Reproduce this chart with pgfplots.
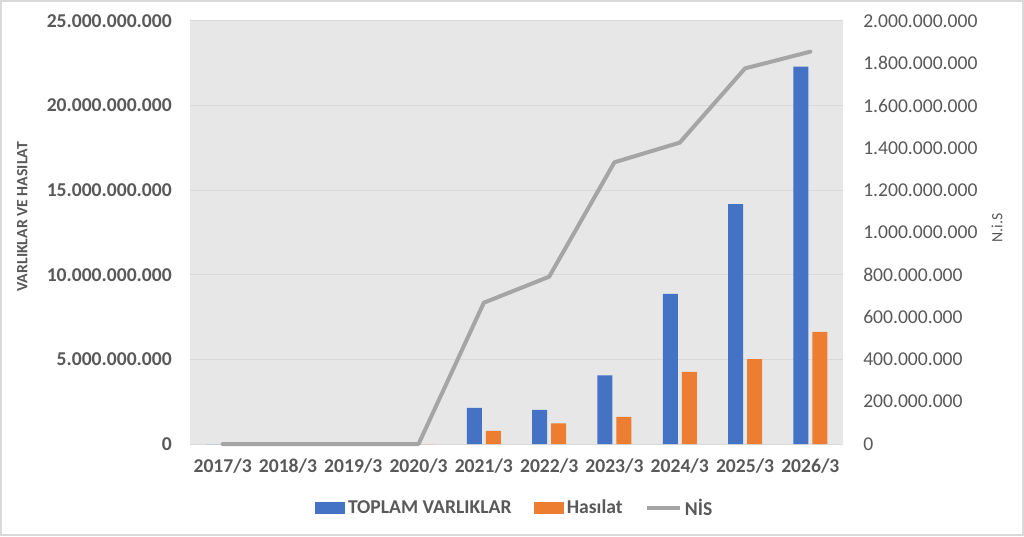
\documentclass[border=0pt]{standalone}
\usepackage{pgfplots}
\pgfplotsset{compat=1.18}
\usepackage{fontspec}
\setmainfont{Carlito}
\definecolor{cblue}{HTML}{4472C4}
\definecolor{corange}{HTML}{ED7D31}
\definecolor{cgrey}{HTML}{A5A5A5}
\definecolor{ctext}{HTML}{595959}
\definecolor{cbg}{HTML}{E7E7E7}
\definecolor{cgrid}{HTML}{D9D9D9}
\begin{document}
\begin{tikzpicture}[x=1pt,y=1pt]
\useasboundingbox (0,0) rectangle (768,402);
\fill[white] (0,0) rectangle (768,402);
\draw[cgrid, line width=1.5pt] (0.75,0.75) rectangle (767.25,401.25);
\begin{axis}[
  at={(142.5pt,69pt)}, anchor=south west,
  width=489.75pt, height=317.25pt, scale only axis,
  xmin=-0.5, xmax=9.5, ymin=0, ymax=25000000000,
  scaled y ticks=false, scaled x ticks=false,
  axis background/.style={fill=cbg},
  axis line style={draw=none},
  major tick length=0pt,
  ymajorgrids, grid style={cgrid, line width=0.75pt},
  xtick={0,1,2,3,4,5,6,7,8,9},
  xticklabels={2017/3,2018/3,2019/3,2020/3,2021/3,2022/3,2023/3,2024/3,2025/3,2026/3},
  xticklabel style={font=\fontsize{14.7}{16}\selectfont\bfseries, text=ctext, inner sep=0pt, anchor=north, yshift=-11pt},
  ytick={0,5000000000,10000000000,15000000000,20000000000,25000000000},
  yticklabels={0,5.000.000.000,10.000.000.000,15.000.000.000,20.000.000.000,25.000.000.000},
  yticklabel style={font=\fontsize{14.7}{16}\selectfont\bfseries, text=ctext, inner sep=0pt, anchor=east, xshift=-13.5pt},
  legend style={at={(0.498,-0.151)}, anchor=center, legend columns=3, draw=none, fill=none,
    font=\fontsize{14.7}{16}\selectfont\bfseries, text=ctext,
    /tikz/every even column/.append style={column sep=15pt}},
  clip=false,
]
\addplot[ybar, bar width=11.25pt, bar shift=-7.125pt, fill=cblue, draw=none,
  legend image code/.code={\fill[cblue] (0pt,-4.5pt) rectangle (22.5pt,4.5pt);}]
  coordinates {(0,0) (1,0) (2,0) (3,0) (4,2130000000) (5,2010000000) (6,4060000000) (7,8870000000) (8,14180000000) (9,22300000000)};
\addlegendentry{TOPLAM VARLIKLAR}
\addplot[ybar, bar width=11.25pt, bar shift=7.125pt, fill=corange, draw=none,
  legend image code/.code={\fill[corange] (0pt,-4.5pt) rectangle (22.5pt,4.5pt);}]
  coordinates {(0,0) (1,0) (2,0) (3,0) (4,770000000) (5,1220000000) (6,1600000000) (7,4260000000) (8,5020000000) (9,6620000000)};
\addlegendentry{Hasılat}
\addlegendimage{cgrey, line width=3pt, legend image code/.code={\draw[cgrey, line width=3pt] (0pt,0pt) -- (24.75pt,0pt);}}
\addlegendentry{NİS}
\node[rotate=90, font=\fontsize{11.8}{13}\selectfont\bfseries, text=ctext] at (rel axis cs:-0.257,0.537) {VARLIKLAR VE HASILAT};
\node[rotate=90, font=\fontsize{11.8}{13}\selectfont, text=ctext] at (rel axis cs:1.236,0.511) {N.i.S};
\end{axis}
\begin{axis}[
  at={(142.5pt,69pt)}, anchor=south west,
  width=489.75pt, height=317.25pt, scale only axis,
  xmin=-0.5, xmax=9.5, ymin=0, ymax=2000000000,
  scaled y ticks=false, scaled x ticks=false,
  axis y line*=right, axis x line=none,
  axis line style={draw=none},
  major tick length=0pt,
  ytick={0,200000000,400000000,600000000,800000000,1000000000,1200000000,1400000000,1600000000,1800000000,2000000000},
  yticklabels={0,200.000.000,400.000.000,600.000.000,800.000.000,1.000.000.000,1.200.000.000,1.400.000.000,1.600.000.000,1.800.000.000,2.000.000.000},
  yticklabel style={font=\fontsize{14.7}{16}\selectfont, text=ctext, inner sep=0pt, anchor=west, xshift=15pt},
  clip=false,
]
\addplot[cgrey, line width=3pt, line join=round, line cap=round]
  coordinates {(0,0) (1,0) (2,0) (3,0) (4,668000000) (5,791000000) (6,1332000000) (7,1425000000) (8,1776000000) (9,1855000000)};
\end{axis}
\end{tikzpicture}
\end{document}
